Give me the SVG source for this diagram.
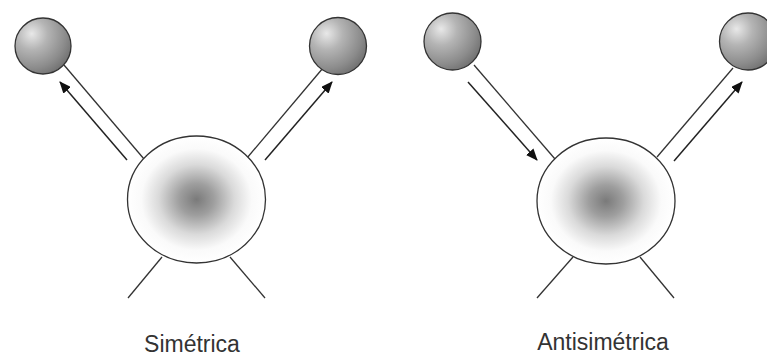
<svg xmlns="http://www.w3.org/2000/svg" width="767" height="356" viewBox="0 0 767 356">
  <defs>
    <radialGradient id="ball" cx="0.3" cy="0.3" r="0.8" fx="0.3" fy="0.28">
      <stop offset="0" stop-color="#e8e8e8"/>
      <stop offset="0.35" stop-color="#b4b4b4"/>
      <stop offset="0.75" stop-color="#8c8c8c"/>
      <stop offset="1" stop-color="#6e6e6e"/>
    </radialGradient>
    <radialGradient id="core" cx="0.5" cy="0.5" r="0.5">
      <stop offset="0" stop-color="#7a7a7a"/>
      <stop offset="0.25" stop-color="#9e9e9e"/>
      <stop offset="0.55" stop-color="#dadada"/>
      <stop offset="0.8" stop-color="#fafafa"/>
      <stop offset="1" stop-color="#ffffff"/>
    </radialGradient>
    <marker id="arr" viewBox="0 0 12 10" refX="11" refY="5" markerWidth="12" markerHeight="10" markerUnits="userSpaceOnUse" orient="auto">
      <path d="M0,0 L12,5 L0,10 z" fill="#111"/>
    </marker>
  </defs>
  <style>
    .ball { fill: url(#ball); stroke: #333; stroke-width: 1.3; }
    .core { fill: url(#core); stroke: #333; stroke-width: 1.3; }
    .ln { stroke: #333; stroke-width: 1.3; fill: none; }
    .ar { stroke: #222; stroke-width: 1.5; fill: none; marker-end: url(#arr); }
    .lbl { font-family: "Liberation Sans", Arial, sans-serif; font-size: 23px; fill: #333; text-anchor: middle; }
  </style>
  <rect width="767" height="356" fill="#ffffff"/>

  <g id="connectors">
    <!-- left panel -->
    <line class="ln" x1="64" y1="65" x2="144" y2="159"/>
    <line class="ln" x1="323" y1="68" x2="247" y2="158"/>
    <line class="ln" x1="162" y1="257" x2="128" y2="298"/>
    <line class="ln" x1="230" y1="257" x2="265" y2="298"/>
    <line class="ar" x1="127" y1="160" x2="60" y2="82"/>
    <line class="ar" x1="265" y1="160" x2="332" y2="82"/>
    <!-- right panel -->
    <line class="ln" x1="474" y1="65" x2="555" y2="159"/>
    <line class="ln" x1="733" y1="68" x2="657" y2="157"/>
    <line class="ln" x1="573" y1="257" x2="537" y2="298"/>
    <line class="ln" x1="640" y1="257" x2="674" y2="298"/>
    <line class="ar" x1="468" y1="82" x2="537" y2="160"/>
    <line class="ar" x1="674" y1="161" x2="742" y2="82"/>
  </g>

  <g id="sym-core"><ellipse class="core" cx="196.5" cy="199.5" rx="69" ry="63.5"/></g>
  <g id="sym-ball-left"><circle class="ball" cx="43" cy="46" r="28"/></g>
  <g id="sym-ball-right"><circle class="ball" cx="338" cy="46" r="28.5"/></g>
  <g id="sym-label"><text class="lbl" x="192" y="352">Simétrica</text></g>

  <g id="anti-core"><ellipse class="core" cx="606" cy="201" rx="69" ry="63"/></g>
  <g id="anti-ball-left"><circle class="ball" cx="452.5" cy="41.5" r="28.5"/></g>
  <g id="anti-ball-right"><circle class="ball" cx="748" cy="41.5" r="28.5"/></g>
  <g id="anti-label"><text class="lbl" x="603" y="350">Antisimétrica</text></g>
</svg>
